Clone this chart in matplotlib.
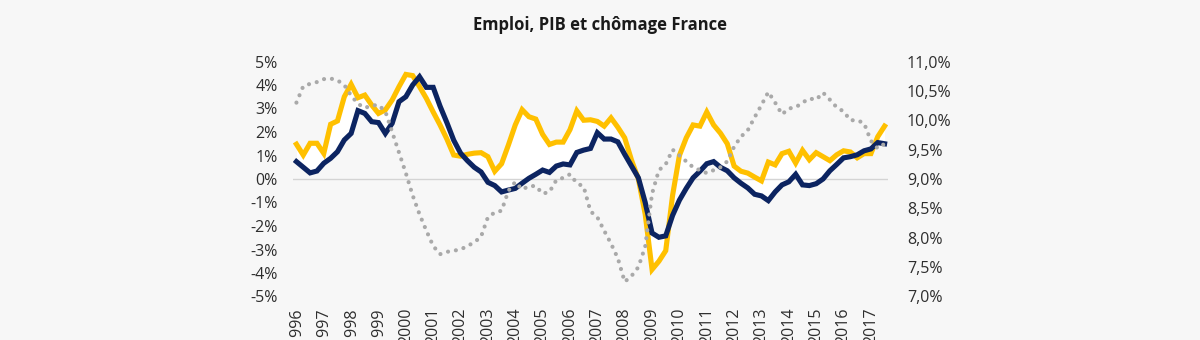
import matplotlib
matplotlib.use("Agg")
import matplotlib.pyplot as plt
import numpy as np

plt.rcParams['font.family'] = ['Open Sans', 'DejaVu Sans']

# quarterly data, 1996Q1 - 2017Q3 (year-on-year %, unemployment rate %)
emploi = [0.74, 0.50, 0.26, 0.34, 0.67, 0.88, 1.16, 1.66, 1.94, 2.91, 2.79, 2.44, 2.40, 1.94, 2.37, 3.29, 3.50, 4.00, 4.35, 3.90, 3.90, 3.10,
          2.40, 1.65, 1.10, 0.78, 0.50, 0.30, -0.14, -0.28, -0.55, -0.47, -0.40, -0.18, 0.03, 0.20, 0.38, 0.28, 0.55, 0.64, 0.60, 1.13, 1.23, 1.30,
          1.97, 1.70, 1.70, 1.58, 1.05, 0.55, 0.05, -1.00, -2.30, -2.48, -2.42, -1.55, -0.90, -0.40, 0.05, 0.33, 0.65, 0.74, 0.50, 0.35, 0.05, -0.18,
          -0.38, -0.65, -0.72, -0.92, -0.55, -0.25, -0.12, 0.20, -0.25, -0.28, -0.20, 0.00, 0.35, 0.62, 0.90, 0.95, 1.03, 1.20, 1.28, 1.55, 1.50]

pib = [1.48, 1.02, 1.52, 1.52, 1.09, 2.33, 2.47, 3.50, 4.03, 3.46, 3.57, 3.15, 2.79, 2.94, 3.36, 3.93, 4.45, 4.40, 3.93, 3.43, 2.85, 2.30,
       1.70, 1.02, 0.97, 1.05, 1.10, 1.12, 0.95, 0.33, 0.65, 1.45, 2.30, 2.95, 2.65, 2.55, 1.90, 1.47, 1.57, 1.57, 2.10, 2.90, 2.50, 2.52,
       2.45, 2.25, 2.60, 2.20, 1.75, 0.80, 0.00, -1.50, -3.85, -3.50, -3.05, -0.70, 1.00, 1.75, 2.30, 2.25, 2.85, 2.30, 1.95, 1.50, 0.55, 0.33,
       0.25, 0.08, -0.08, 0.72, 0.60, 1.08, 1.18, 0.68, 1.22, 0.82, 1.12, 0.95, 0.78, 1.03, 1.20, 1.15, 0.90, 1.08, 1.08, 1.80, 2.25]

chomage = [10.30, 10.58, 10.62, 10.65, 10.70, 10.71, 10.68, 10.60, 10.42, 10.28, 10.21, 10.25, 10.26, 10.15, 9.80, 9.45, 9.10, 8.72, 8.40, 8.12, 7.86, 7.72,
           7.76, 7.78, 7.80, 7.86, 7.92, 8.02, 8.35, 8.43, 8.46, 8.80, 8.95, 8.82, 8.88, 8.88, 8.75, 8.78, 8.98, 9.02, 9.08, 8.93, 8.87, 8.45,
           8.35, 8.12, 7.90, 7.65, 7.25, 7.35, 7.50, 7.85, 8.75, 9.15, 9.25, 9.50, 9.40, 9.30, 9.20, 9.15, 9.10, 9.15, 9.20, 9.30, 9.55, 9.72,
           9.83, 10.05, 10.26, 10.48, 10.30, 10.10, 10.20, 10.22, 10.30, 10.37, 10.35, 10.47, 10.35, 10.22, 10.15, 10.00, 10.00, 9.95, 9.65, 9.52, 9.60]

years = [str(y) for y in range(1996, 2018)]
left_ticks = [5, 4, 3, 2, 1, 0, -1, -2, -3, -4, -5]
right_ticks = [11.0, 10.5, 10.0, 9.5, 9.0, 8.5, 8.0, 7.5, 7.0]

bg = '#f7f7f7'
navy = '#0c2461'
gold = '#ffc000'
grey = '#a9a9a9'
txt = '#2e2e2e'

x = np.arange(len(emploi))

fig = plt.figure(figsize=(12, 3.4), dpi=100, facecolor=bg)
ax = fig.add_axes([293 / 1200, 1 - 296.5 / 340, 595 / 1200, 235 / 340])
ax.set_facecolor(bg)

ax.fill_between(x, emploi, pib, color='white', lw=0, zorder=1)
ax.axhline(0, color='#d4d4d4', lw=1, zorder=2)
ax.plot(x, pib, color=gold, lw=3.7, solid_joinstyle='miter', zorder=3)
ax.plot(x, emploi, color=navy, lw=3.7, solid_joinstyle='miter', zorder=4)

ax.set_xlim(-0.5, len(emploi) - 0.5)
ax.set_ylim(-5, 5)
ax.set_yticks(left_ticks)
ax.set_yticklabels([f"{t}%" for t in left_ticks])
ax.set_xticks(np.arange(0, len(emploi), 4)[:len(years)])
ax.set_xticklabels(years, rotation=90, va='top', ha='center')
ax.tick_params(axis='y', length=0, pad=11, labelsize=11.5, labelcolor=txt)
ax.tick_params(axis='x', length=0, pad=8, labelsize=11.5, labelcolor=txt)
for s in ax.spines.values():
    s.set_visible(False)

ax2 = ax.twinx()
ax2.plot(x, chomage, color=grey, lw=3.0, linestyle=(0, (0.01, 1.9)),
         dash_capstyle='round', zorder=5)
ax2.set_ylim(7, 11)
ax2.set_yticks(right_ticks)
ax2.set_yticklabels([f"{t:.1f}%".replace('.', ',') for t in right_ticks])
ax2.tick_params(axis='y', length=0, pad=13.5, labelsize=11.5, labelcolor=txt)
for s in ax2.spines.values():
    s.set_visible(False)

fig.text(0.5, 1 - 25 / 340, 'Emploi, PIB et chômage France', ha='center', va='center',
         fontsize=12, fontweight='bold', color='#1a1a1a')

fig.savefig('out.png', dpi=100, facecolor=bg)
